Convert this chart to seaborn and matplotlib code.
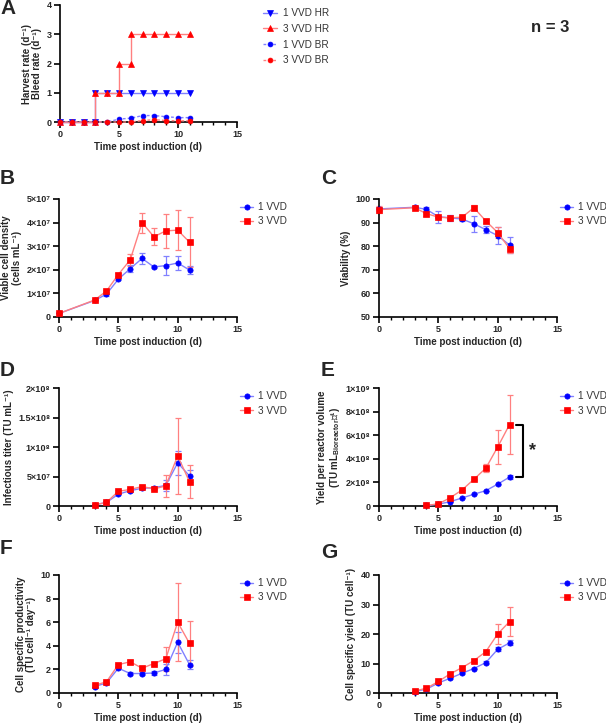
import numpy as np
import pandas as pd
import matplotlib
matplotlib.use('Agg')
import matplotlib.pyplot as plt
import seaborn as sns
from matplotlib.ticker import MultipleLocator

# ---- data ----
# A: harvest rate (HR) / bleed rate (BR); repeated day = step change on that day
hr_days_1 = [0, 1, 2, 3, 3, 4, 5, 6, 7, 8, 9, 10, 11]
hr_1vvd = [0, 0, 0, 0, 1, 1, 1, 1, 1, 1, 1, 1, 1]
hr_days_3 = [0, 1, 2, 3, 3, 4, 5, 5, 6, 6, 7, 8, 9, 10, 11]
hr_3vvd = [0, 0, 0, 0, 1, 1, 1, 2, 2, 3, 3, 3, 3, 3, 3]
br_days = [0, 1, 2, 3, 4, 5, 6, 7, 8, 9, 10, 11]
br_1vvd = [0, 0, 0, 0, 0, 0.10, 0.13, 0.22, 0.22, 0.18, 0.15, 0.15]
br_3vvd = [0, 0, 0, 0, 0, 0, 0, 0.05, 0.08, 0.05, 0.04, 0.04]

# B / C
days_bc = [0, 3, 4, 5, 6, 7, 8, 9, 10, 11]
vcd_1 = [0.15, 0.70, 0.97, 1.60, 2.05, 2.48, 2.12, 2.18, 2.29, 1.99]   # x1e7
vcd_1_sd = [0, 0, 0.08, 0.05, 0.15, 0.25, 0.05, 0.40, 0.30, 0.15]
vcd_3 = [0.15, 0.72, 1.10, 1.80, 2.42, 4.00, 3.40, 3.65, 3.68, 3.17]
vcd_3_sd = [0, 0, 0.05, 0.05, 0.25, 0.42, 0.36, 0.72, 0.86, 1.06]

via_1 = [95.8, 96.5, 95.6, 92.5, 92.0, 91.5, 89.5, 87.0, 84.5, 80.5]
via_1_sd = [1.0, 0.5, 1.0, 2.5, 1.3, 1.0, 3.5, 1.5, 3.7, 3.5]
via_3 = [95.5, 96.3, 93.8, 92.3, 92.0, 92.3, 96.3, 90.7, 85.8, 79.0]
via_3_sd = [1.5, 0.5, 1.0, 0.5, 0.5, 0.5, 1.0, 1.0, 2.5, 2.0]

# D / F / G
days_dfg = [3, 4, 5, 6, 7, 8, 9, 10, 11]
tit_1 = [0.2, 0.6, 2.0, 2.6, 3.0, 3.1, 3.5, 7.3, 5.1]   # x1e7
tit_1_sd = [0.1, 0.2, 0.2, 0.2, 0.2, 0.2, 0.9, 2.1, 1.0]
tit_3 = [0.2, 0.6, 2.5, 2.8, 3.3, 2.9, 3.4, 8.5, 4.1]
tit_3_sd = [0.1, 0.2, 0.2, 0.2, 0.2, 0.2, 1.9, 6.5, 2.8]

csp_1 = [0.55, 0.85, 2.1, 1.65, 1.65, 1.7, 2.0, 4.3, 2.4]
csp_1_sd = [0.1, 0.1, 0.1, 0.1, 0.1, 0.15, 0.5, 0.9, 0.4]
csp_3 = [0.65, 0.95, 2.4, 2.65, 2.1, 2.5, 2.9, 6.0, 4.2]
csp_3_sd = [0.1, 0.1, 0.1, 0.15, 0.1, 0.1, 1.0, 3.3, 1.9]

csy_1 = [0.5, 1.3, 3.4, 5.0, 6.7, 8.3, 10.3, 14.8, 17.0]
csy_1_sd = [0.1, 0.2, 0.3, 0.3, 0.3, 0.3, 0.4, 0.7, 0.8]
csy_3 = [0.7, 1.6, 3.9, 6.5, 8.6, 11.0, 14.0, 20.0, 24.2]
csy_3_sd = [0.1, 0.2, 0.3, 0.5, 0.4, 0.4, 0.4, 3.5, 5.0]

# E
days_e = [4, 5, 6, 7, 8, 9, 10, 11]
yld_1 = [0.05, 0.15, 0.37, 0.68, 1.0, 1.3, 1.85, 2.45]   # x1e8
yld_1_sd = [0, 0, 0, 0, 0, 0, 0.05, 0.2]
yld_3 = [0.05, 0.18, 0.7, 1.36, 2.27, 3.2, 5.0, 6.9]
yld_3_sd = [0, 0, 0, 0, 0.05, 0.35, 1.4, 2.5]

# tick labels
a_yticks = [0, 1, 2, 3, 4]
b_yticks = [0, 1e7, 2e7, 3e7, 4e7, 5e7]
b_ylabels = ['0', '1×10⁷', '2×10⁷', '3×10⁷', '4×10⁷', '5×10⁷']
c_yticks = [50, 60, 70, 80, 90, 100]
d_yticks = [0, 5e7, 1e8, 1.5e8, 2e8]
d_ylabels = ['0', '5×10⁷', '1×10⁸', '1.5×10⁸', '2×10⁸']
e_yticks = [0, 2e8, 4e8, 6e8, 8e8, 1e9]
e_ylabels = ['0', '2×10⁸', '4×10⁸', '6×10⁸', '8×10⁸', '1×10⁹']
f_yticks = [0, 2, 4, 6, 8, 10]
g_yticks = [0, 10, 20, 30, 40]

BLUE, LBLUE = '#0000ff', '#8080ff'
RED, LRED = '#ff0000', '#ff8080'

sns.set_style('ticks')
plt.rcParams['font.family'] = ['Liberation Sans', 'DejaVu Sans']
plt.rcParams['mathtext.fontset'] = 'custom'
plt.rcParams['mathtext.rm'] = 'Liberation Sans:bold'
plt.rcParams['mathtext.it'] = 'Liberation Sans:bold'
plt.rcParams['mathtext.bf'] = 'Liberation Sans:bold'

fig = plt.figure(figsize=(6.06, 7.24), dpi=100)
W, H = 606, 724


def make_ax(left, top, right, bottom):
    return fig.add_axes([left / W, 1 - bottom / H, (right - left) / W, (bottom - top) / H])


def draw_series(ax, days, vals, sd, dark, light, marker, label, ls='-', ms=3.8):
    sns.lineplot(x=days, y=vals, ax=ax, color=light, lw=1, ls=ls, marker=marker, ms=ms,
                 mfc=dark, mec=dark, mew=0.5, label=label, estimator=None, sort=False,
                 clip_on=False, zorder=3)
    if sd is not None:
        ax.errorbar(days, vals, yerr=sd, fmt='none', ecolor=light, elinewidth=0.9,
                    capsize=2.4, capthick=0.9, clip_on=False, zorder=2)


def style_ax(ax, ymin, ymax, yticks, ylabels, ylabel):
    ax.set_xlim(0, 15)
    ax.set_ylim(ymin, ymax)
    ax.set_xticks([0, 5, 10, 15])
    ax.xaxis.set_minor_locator(MultipleLocator(1))
    ax.set_yticks(yticks, ylabels if ylabels else [str(t) for t in yticks])
    sns.despine(ax=ax)
    for s in ['left', 'bottom']:
        ax.spines[s].set_linewidth(1.2)
        ax.spines[s].set_color('black')
    ax.tick_params(which='major', length=4, width=1.2, color='black', labelsize=6.5, pad=2)
    ax.tick_params(which='minor', length=2.5, width=1.0, color='black')
    for lab in ax.get_xticklabels() + ax.get_yticklabels():
        lab.set_fontweight('bold')
    ax.set_xlabel('Time post induction (d)', fontsize=7, fontweight='bold', labelpad=2)
    ax.set_ylabel(ylabel, fontsize=7, fontweight='bold', labelpad=3, linespacing=1.1)
    ax.legend(loc='upper left', bbox_to_anchor=(1.0, 1.0), frameon=False, fontsize=7.2,
              borderaxespad=0, borderpad=0.3, handlelength=1.3, handletextpad=0.5,
              labelspacing=0.45, labelcolor='#333333')


# A
ax = make_ax(60, 5, 237, 122)
draw_series(ax, hr_days_1, hr_1vvd, None, BLUE, LBLUE, 'v', '1 VVD HR')
draw_series(ax, hr_days_3, hr_3vvd, None, RED, LRED, '^', '3 VVD HR')
draw_series(ax, br_days, br_1vvd, None, BLUE, LBLUE, 'o', '1 VVD BR', ls=(0, (2, 1.5)), ms=3.5)
draw_series(ax, br_days, br_3vvd, None, RED, LRED, 'o', '3 VVD BR', ls=(0, (2, 1.5)), ms=3.5)
style_ax(ax, 0, 4, a_yticks, None, 'Harvest rate (d⁻¹)\nBleed rate (d⁻¹)')
ax.legend(loc='upper left', bbox_to_anchor=(1.13, 1.0), frameon=False, fontsize=7.2,
          borderaxespad=0, borderpad=0.3, handlelength=1.4, handletextpad=0.6,
          labelspacing=0.58, labelcolor='#333333')

# B
ax = make_ax(59, 199, 237, 317)
draw_series(ax, days_bc, np.array(vcd_1) * 1e7, np.array(vcd_1_sd) * 1e7, BLUE, LBLUE, 'o', '1 VVD')
draw_series(ax, days_bc, np.array(vcd_3) * 1e7, np.array(vcd_3_sd) * 1e7, RED, LRED, 's', '3 VVD')
style_ax(ax, 0, 5e7, b_yticks, b_ylabels, 'Viable cell density\n(cells mL⁻¹)')

# C
ax = make_ax(379, 199, 557, 317)
draw_series(ax, days_bc, via_1, via_1_sd, BLUE, LBLUE, 'o', '1 VVD')
draw_series(ax, days_bc, via_3, via_3_sd, RED, LRED, 's', '3 VVD')
style_ax(ax, 50, 100, c_yticks, None, 'Viability (%)')

# D
ax = make_ax(59, 388, 237, 506)
draw_series(ax, days_dfg, np.array(tit_1) * 1e7, np.array(tit_1_sd) * 1e7, BLUE, LBLUE, 'o', '1 VVD')
draw_series(ax, days_dfg, np.array(tit_3) * 1e7, np.array(tit_3_sd) * 1e7, RED, LRED, 's', '3 VVD')
style_ax(ax, 0, 2e8, d_yticks, d_ylabels, 'Infectious titer (TU mL⁻¹)')

# E
ax = make_ax(379, 388, 557, 506)
draw_series(ax, days_e, np.array(yld_1) * 1e8, np.array(yld_1_sd) * 1e8, BLUE, LBLUE, 'o', '1 VVD')
draw_series(ax, days_e, np.array(yld_3) * 1e8, np.array(yld_3_sd) * 1e8, RED, LRED, 's', '3 VVD')
style_ax(ax, 0, 1e9, e_yticks, e_ylabels,
         'Yield per reactor volume\n(TU mL$_{\\mathrm{Bioreactor}}$⁻¹)')
# significance bracket between day-11 means
ax.plot([11.55, 12.13, 12.13, 11.55], [yld_3[-1] * 1e8, yld_3[-1] * 1e8, yld_1[-1] * 1e8, yld_1[-1] * 1e8],
        color='black', lw=1.5, clip_on=False)
ax.text(12.97, (yld_3[-1] + yld_1[-1]) / 2 * 1e8, '*', fontsize=13, fontweight='bold',
        ha='center', va='center')

# F
ax = make_ax(59, 575, 237, 693)
draw_series(ax, days_dfg, csp_1, csp_1_sd, BLUE, LBLUE, 'o', '1 VVD')
draw_series(ax, days_dfg, csp_3, csp_3_sd, RED, LRED, 's', '3 VVD')
style_ax(ax, 0, 10, f_yticks, None, 'Cell specific productivity\n(TU cell⁻¹ day⁻¹)')

# G
ax = make_ax(379, 575, 557, 693)
draw_series(ax, days_dfg, csy_1, csy_1_sd, BLUE, LBLUE, 'o', '1 VVD')
draw_series(ax, days_dfg, csy_3, csy_3_sd, RED, LRED, 's', '3 VVD')
style_ax(ax, 0, 40, g_yticks, None, 'Cell specific yield (TU cell⁻¹)')

# panel letters and n
letters = [('A', 0, 8), ('B', 0, 178), ('C', 321, 178), ('D', 0, 370),
           ('E', 321, 370), ('F', 0, 549), ('G', 321, 552)]
for txt, x, y in letters:
    fig.text(x / W, 1 - y / H, txt, fontsize=15, fontweight='bold', ha='left', va='center')
fig.text(550 / W, 1 - 28 / H, 'n = 3', fontsize=12, fontweight='bold', ha='center', va='center')

fig.savefig('out.png', dpi=100)
